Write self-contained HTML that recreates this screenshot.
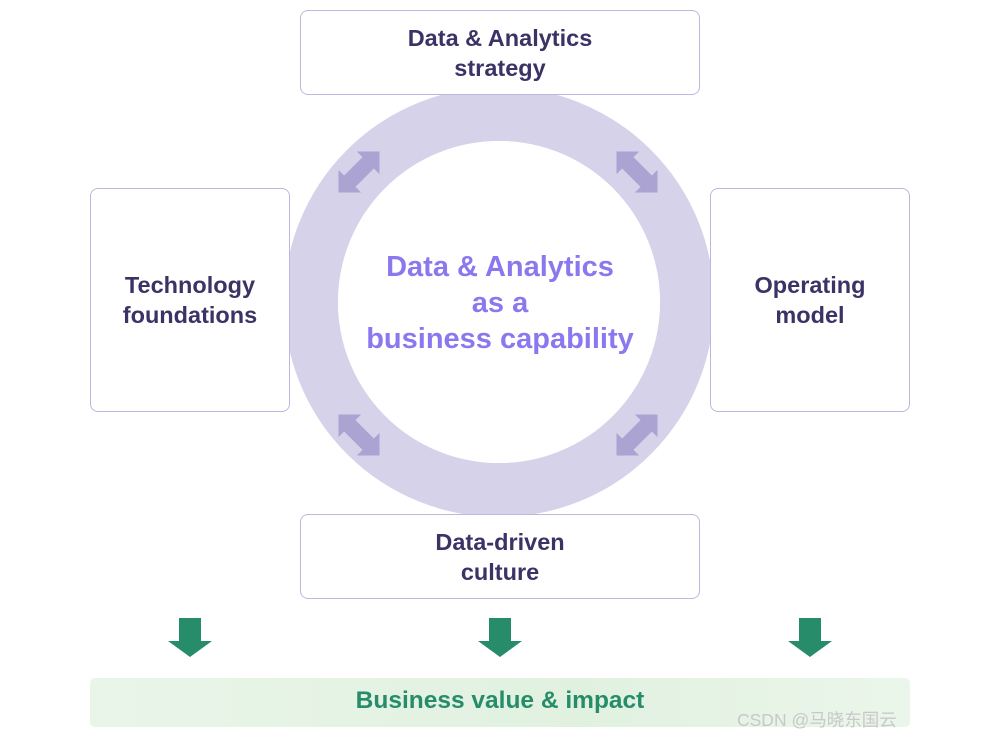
<!DOCTYPE html>
<html><head><meta charset="utf-8"><style>
body{margin:0;width:1000px;height:738px;background:#fff;position:relative;overflow:hidden;font-family:"Liberation Sans",sans-serif}
.box{position:absolute;background:#fff;border:1.5px solid #bdb7de;border-radius:8px;display:flex;align-items:center;justify-content:center;text-align:center;color:#3b3266;font-weight:bold;font-size:23.5px;line-height:30px;box-sizing:border-box}
</style></head><body>
<svg width="1000" height="738" style="position:absolute;left:0;top:0">
<circle cx="499" cy="302" r="188" fill="none" stroke="#d5d2ea" stroke-width="54"/>
<circle cx="499" cy="302" r="161" fill="#fff"/>
<g fill="#aba4d2">
<g transform="translate(359,172) rotate(-45)"><polygon points="-29,0 -13,-16 -13,-8 13,-8 13,-16 29,0 13,16 13,8 -13,8 -13,16"/></g>
<g transform="translate(637,172) rotate(45)"><polygon points="-29,0 -13,-16 -13,-8 13,-8 13,-16 29,0 13,16 13,8 -13,8 -13,16"/></g>
<g transform="translate(359,435) rotate(45)"><polygon points="-29,0 -13,-16 -13,-8 13,-8 13,-16 29,0 13,16 13,8 -13,8 -13,16"/></g>
<g transform="translate(637,435) rotate(-45)"><polygon points="-29,0 -13,-16 -13,-8 13,-8 13,-16 29,0 13,16 13,8 -13,8 -13,16"/></g>
</g>
<g fill="#278c6a">
<polygon points="179,618 201,618 201,641 212,641 190,657 168,641 179,641"/>
<polygon points="489,618 511,618 511,641 522,641 500,657 478,641 489,641"/>
<polygon points="799,618 821,618 821,641 832,641 810,657 788,641 799,641"/>
</g>
<defs><linearGradient id="g" x1="0" x2="1"><stop offset="0" stop-color="#e9f5e9"/><stop offset="0.6" stop-color="#e1f1e0"/><stop offset="1" stop-color="#ebf6ea"/></linearGradient></defs>
<rect x="90" y="678" width="820" height="49" rx="5" fill="url(#g)"/>
</svg>
<div class="box" style="left:300px;top:10px;width:400px;height:85px">Data &amp; Analytics<br>strategy</div>
<div class="box" style="left:90px;top:188px;width:200px;height:224px">Technology<br>foundations</div>
<div class="box" style="left:710px;top:188px;width:200px;height:224px">Operating<br>model</div>
<div class="box" style="left:300px;top:514px;width:400px;height:85px">Data-driven<br>culture</div>
<div style="position:absolute;left:330px;top:249px;width:340px;text-align:center;color:#8b78ee;font-weight:bold;font-size:29px;line-height:36px">Data &amp; Analytics<br>as a<br>business capability</div>
<div style="position:absolute;left:90px;top:686px;width:820px;text-align:center;color:#278c6a;font-weight:bold;font-size:24.5px;line-height:30px">Business value &amp; impact</div>
<div style="position:absolute;left:737px;top:707px;color:#c8c8c8;font-size:17.5px;font-family:'Liberation Sans','Noto Sans CJK SC',sans-serif">CSDN @马晓东国云</div>
</body></html>
